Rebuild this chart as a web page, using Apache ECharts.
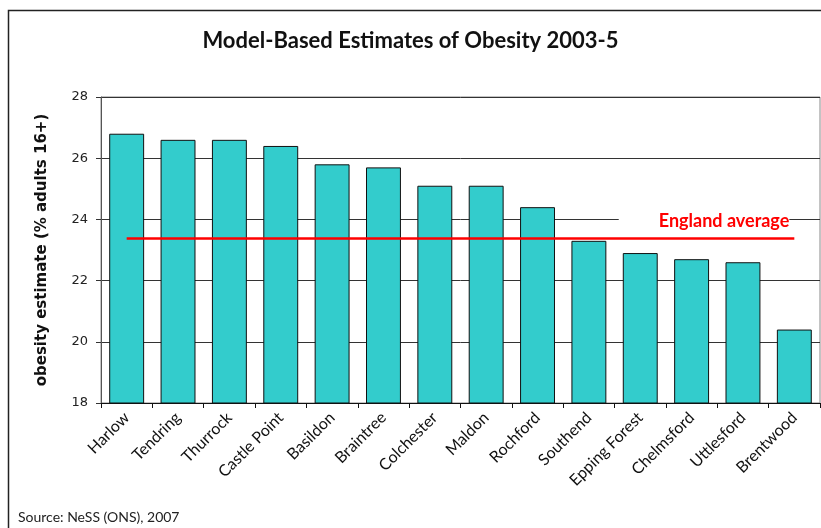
<!DOCTYPE html>
<html>
<head>
<meta charset="utf-8">
<script src="https://cdn.jsdelivr.net/npm/echarts@6/dist/echarts.min.js"></script>
<style>
  html, body { margin: 0; padding: 0; background: #fff; }
  #chart { width: 821px; height: 528px; }
</style>
</head>
<body>
<div id="chart"></div>
<script>
// districts, in the order they appear
const districts = ['Harlow', 'Tendring', 'Thurrock', 'Castle Point', 'Basildon', 'Braintree', 'Colchester',
  'Maldon', 'Rochford', 'Southend', 'Epping Forest', 'Chelmsford', 'Uttlesford', 'Brentwood']
// obesity estimate, % adults 16+
const obesity = [26.8, 26.6, 26.6, 26.4, 25.8, 25.7, 25.1, 25.1, 24.4, 23.3, 22.9, 22.7, 22.6, 20.4]
const englandAverage = 23.4
const yTicks = [18, 20, 22, 24, 26, 28]

const chart = echarts.init(document.getElementById('chart'))

const option = {
  animation: false,
  title: {
    text: 'Model-Based Estimates of Obesity 2003-5',
    left: 'center',
    top: 25,
    textStyle: { fontFamily: 'Lato', fontWeight: 'bold', fontSize: 22, color: '#111' }
  },
  grid: { left: 101, right: 1, top: 97, bottom: 125, show: true, borderColor: '#888', borderWidth: 1 },
  graphic: [
    {
      // outer frame of the figure
      type: 'rect',
      shape: { x: 8.5, y: 10.5, width: 900, height: 700 },
      style: { fill: 'none', stroke: '#222', lineWidth: 1.5 },
      silent: true
    },
    {
      type: 'text',
      left: 18,
      top: 510,
      style: { text: 'Source: NeSS (ONS), 2007', font: '14px Lato', fill: '#222' }
    }
  ],
  xAxis: {
    type: 'category',
    data: districts,
    axisLine: { lineStyle: { color: '#111', width: 1 } },
    axisTick: { show: true, length: 5, lineStyle: { color: '#111' } },
    axisLabel: { rotate: 45, margin: 12, fontFamily: 'Lato', fontSize: 16, color: '#111', interval: 0 }
  },
  yAxis: {
    type: 'value',
    min: yTicks[0],
    max: yTicks[yTicks.length - 1],
    interval: 2,
    name: 'obesity estimate (% adults 16+)',
    nameLocation: 'middle',
    nameRotate: 90,
    nameGap: 51,
    nameTextStyle: { fontFamily: 'DejaVu Sans', fontWeight: 'bold', fontSize: 15, color: '#111' },
    axisLine: { show: true, lineStyle: { color: '#555' } },
    axisTick: { show: true, length: 5, lineStyle: { color: '#333' } },
    axisLabel: { margin: 13, fontFamily: 'DejaVu Sans', fontSize: 13, color: '#222' },
    splitLine: { lineStyle: { color: '#333', width: 1 } }
  },
  series: [{
    type: 'bar',
    data: obesity,
    barCategoryGap: '32%',
    itemStyle: { color: '#33CCCC', borderColor: '#111', borderWidth: 1 },
    markLine: {
      silent: true,
      symbol: 'none',
      lineStyle: { color: '#ff0000', width: 2.5, type: 'solid' },
      label: {
        show: true,
        position: 'insideEndTop',
        formatter: 'England average',
        distance: 5,
        padding: [2, 0, 2, 40],
        lineHeight: 20,
        backgroundColor: '#fff',
        color: '#ff0000',
        fontFamily: 'Lato',
        fontWeight: 'bold',
        fontSize: 18
      },
      data: [[
        { coord: [districts[0], englandAverage] },
        { coord: [districts[districts.length - 1], englandAverage] }
      ]]
    }
  }]
}
chart.setOption(option)
</script>
</body>
</html>
